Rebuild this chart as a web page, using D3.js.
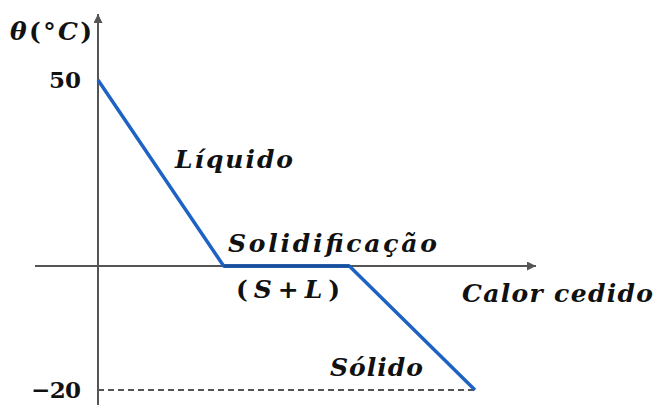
<!DOCTYPE html>
<html>
<head>
<meta charset="utf-8">
<script src="https://cdn.jsdelivr.net/npm/d3@7"></script>
<style>
  html, body { margin: 0; padding: 0; background: #fff; }
  svg { display: block; }
  .lbl { font-family: "DejaVu Serif", "Liberation Serif", serif; font-style: italic; font-weight: bold; fill: #111; }
  .num { font-family: "DejaVu Serif", "Liberation Serif", serif; font-weight: bold; fill: #111; }
  .up { font-style: normal; }
</style>
</head>
<body>
<svg id="chart" width="656" height="405"></svg>
<script>
// Cooling curve: temperature vs. heat released
const heat = [0, 1, 2, 3];            // heat released (arbitrary units)
const temperature = [50, 0, 0, -20];  // °C
const tickValues = [50, -20];
const tickLabels = ["50", "\u221220"];

const svg = d3.select("#chart");
const H = 405;

const x = d3.scaleLinear().domain([0, 3]).range([98, 475]);
// Schematic temperature axis: different stretch above and below 0 °C
const y = d3.scaleLinear().domain([-20, 0, 50]).range([390, 266, 80]);

const axisColor = "#555";
svg.append("defs").append("marker")
  .attr("id", "arrow")
  .attr("viewBox", "0 0 10 10")
  .attr("refX", 10).attr("refY", 5)
  .attr("markerWidth", 14).attr("markerHeight", 9)
  .attr("markerUnits", "userSpaceOnUse")
  .attr("orient", "auto")
  .append("path")
  .attr("d", "M0,0 L10,5 L0,10 z")
  .attr("fill", axisColor);

// Axes
svg.append("line")
  .attr("x1", 35).attr("y1", y(0)).attr("x2", 536).attr("y2", y(0))
  .attr("stroke", axisColor).attr("stroke-width", 2)
  .attr("marker-end", "url(#arrow)");
svg.append("line")
  .attr("x1", x(0)).attr("y1", H).attr("x2", x(0)).attr("y2", 14)
  .attr("stroke", axisColor).attr("stroke-width", 2)
  .attr("marker-end", "url(#arrow)");

// Dashed guide to the final temperature
svg.append("line")
  .attr("x1", x(0)).attr("y1", y(-20))
  .attr("x2", x(3)).attr("y2", y(-20))
  .attr("stroke", "#555").attr("stroke-width", 2)
  .attr("stroke-dasharray", "6,4");

// Tick labels
svg.selectAll("text.num")
  .data(tickValues)
  .join("text")
  .attr("class", "num")
  .attr("x", 81)
  .attr("y", d => y(d) + 8)
  .attr("text-anchor", "end")
  .attr("font-size", 23)
  .attr("textLength", (d, i) => i === 0 ? 32 : 50)
  .text((d, i) => tickLabels[i]);

// Cooling curve
const pts = heat.map((h, i) => [h, temperature[i]]);
svg.append("path")
  .datum(pts)
  .attr("d", d3.line().x(d => x(d[0])).y(d => y(d[1])))
  .attr("fill", "none")
  .attr("stroke", "#1e63c3")
  .attr("stroke-width", 3.5)
  .attr("stroke-linejoin", "round");
// plateau drawn over the axis
svg.append("line")
  .attr("x1", x(1)).attr("y1", y(0)).attr("x2", x(2)).attr("y2", y(0))
  .attr("stroke", "#174f9c").attr("stroke-width", 3.5);

// Labels
function label(parts, xx, yy, len) {
  const t = svg.append("text").attr("class", "lbl")
    .attr("x", xx).attr("y", yy).attr("font-size", 25)
    .attr("textLength", len).attr("lengthAdjust", "spacing");
  parts.forEach(p => {
    const s = t.append("tspan").text(p[0]);
    if (p[1]) s.attr("class", "up");
  });
}
label([["\u03B8"], ["(\u00B0", 1], ["C"], [")", 1]], 10, 40, 82);
label([["L\u00EDquido"]], 175, 168, 118);
label([["Solidifica\u00E7\u00E3o"]], 228, 252, 209);
label([["(", 1], ["S"], ["+", 1], ["L"], [")", 1]], 236, 298, 104);
label([["Calor cedido"]], 462, 302, 191);
label([["S\u00F3lido"]], 330, 376, 93);
</script>
</body>
</html>
